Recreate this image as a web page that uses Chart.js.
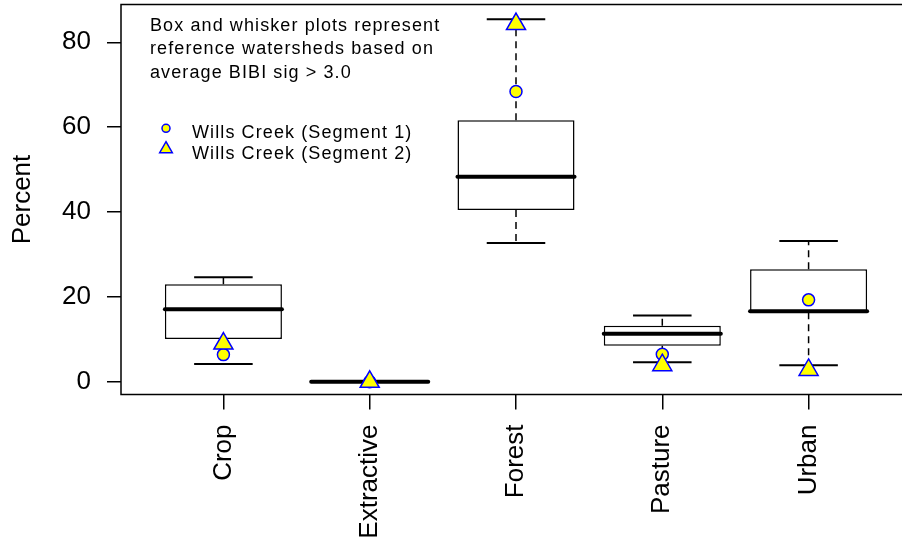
<!DOCTYPE html>
<html lang="en">
<head>
    <meta charset="UTF-8">
    <title>Land use percent - reference watersheds</title>
    <script src="https://cdn.jsdelivr.net/npm/chart.js"></script>
    <style>
        html, body {
            margin: 0;
            padding: 0;
            overflow: hidden;
            background: #fff;
        }
        canvas {
            display: block;
        }
    </style>
</head>
<body>
    <!-- wider than the window on purpose: the plot frame runs off the right edge -->
    <canvas id="boxChart" width="911" height="543"></canvas>

    <script>
        // land use categories and box stats
        const categories = ['Crop', 'Extractive', 'Forest', 'Pasture', 'Urban'];
        const whiskerLow = [4.2, 0, 32.7, 4.6, 3.9];
        const q1 = [10.1, 0, 40.5, 8.5, 16.4];
        const median = [17.1, 0, 48.3, 11.3, 16.6];
        const q3 = [23.0, 0, 61.6, 13.2, 26.5];
        const whiskerHigh = [24.6, 0, 85.4, 15.6, 33.2];

        // Wills Creek segments
        const segment1 = [6.4, 0, 68.4, 6.5, 19.3];
        const segment2 = [9.0, 0, 84.3, 3.9, 2.8];

        const yTicks = [0, 20, 40, 60, 80];

        const noteLines = [
            'Box and whisker plots represent',
            'reference watersheds based on',
            'average BIBI sig > 3.0'
        ];
        const seriesNames = ['Wills Creek (Segment 1)', 'Wills Creek (Segment 2)'];

        const FONT = 'Liberation Sans, Arial, sans-serif';
        const YELLOW = '#ffff00';
        const BLUE = '#0000ff';

        // whiskers, staples and the thick median line, drawn right after the boxes
        const boxParts = {
            id: 'boxParts',
            afterDatasetDraw(chart, args) {
                if (args.index !== 0) return;
                const { ctx } = chart;
                const x = chart.scales.x, y = chart.scales.y;
                ctx.save();
                ctx.strokeStyle = '#000';
                categories.forEach((c, i) => {
                    const px = x.getPixelForValue(i + 1);
                    const cap = x.getPixelForValue(i + 1.2) - px;
                    const half = x.getPixelForValue(i + 1.4) - px;

                    ctx.lineWidth = 1.5;
                    ctx.lineCap = 'butt';
                    ctx.setLineDash([7, 5]);
                    ctx.beginPath();
                    ctx.moveTo(px, y.getPixelForValue(q3[i]));
                    ctx.lineTo(px, y.getPixelForValue(whiskerHigh[i]));
                    ctx.moveTo(px, y.getPixelForValue(q1[i]));
                    ctx.lineTo(px, y.getPixelForValue(whiskerLow[i]));
                    ctx.stroke();

                    ctx.setLineDash([]);
                    ctx.lineWidth = 2;
                    ctx.beginPath();
                    ctx.moveTo(px - cap, y.getPixelForValue(whiskerHigh[i]));
                    ctx.lineTo(px + cap, y.getPixelForValue(whiskerHigh[i]));
                    ctx.moveTo(px - cap, y.getPixelForValue(whiskerLow[i]));
                    ctx.lineTo(px + cap, y.getPixelForValue(whiskerLow[i]));
                    ctx.stroke();

                    ctx.lineWidth = 4;
                    ctx.lineCap = 'round';
                    ctx.beginPath();
                    ctx.moveTo(px - half, y.getPixelForValue(median[i]));
                    ctx.lineTo(px + half, y.getPixelForValue(median[i]));
                    ctx.stroke();
                });
                ctx.restore();
            }
        };

        // R-style box around the plot region
        const frame = {
            id: 'frame',
            beforeDatasetsDraw(chart) {
                const { ctx, chartArea: a } = chart;
                ctx.save();
                ctx.strokeStyle = '#000';
                ctx.lineWidth = 1.5;
                ctx.strokeRect(a.left, a.top, a.right - a.left, a.bottom - a.top);
                ctx.restore();
            }
        };

        // the note and the little legend in the top left corner
        const notes = {
            id: 'notes',
            afterDraw(chart) {
                const { ctx } = chart;
                ctx.save();
                ctx.fillStyle = '#000';
                ctx.font = '18px ' + FONT;
                ctx.letterSpacing = '1.1px';
                ctx.textAlign = 'left';
                ctx.textBaseline = 'alphabetic';
                noteLines.forEach((t, i) => ctx.fillText(t, 150, 31 + i * 23.4));

                ctx.fillText(seriesNames[0], 192, 138);
                ctx.fillText(seriesNames[1], 192, 159);

                ctx.fillStyle = YELLOW;
                ctx.strokeStyle = BLUE;
                ctx.lineWidth = 1.5;
                ctx.beginPath();
                ctx.arc(166, 128.3, 4, 0, Math.PI * 2);
                ctx.fill();
                ctx.stroke();

                const r = 7.3, cx = 166, cy = 149;
                ctx.beginPath();
                ctx.moveTo(cx, cy - r);
                ctx.lineTo(cx + r * 0.866, cy + r / 2);
                ctx.lineTo(cx - r * 0.866, cy + r / 2);
                ctx.closePath();
                ctx.fill();
                ctx.stroke();
                ctx.restore();
            }
        };

        const ctx = document.getElementById('boxChart').getContext('2d');
        const boxChart = new Chart(ctx, {
            type: 'bar',
            data: {
                datasets: [
                    {
                        label: 'Reference watersheds',
                        data: categories.map((c, i) => ({ x: i + 1, y: [q1[i], q3[i]] })),
                        backgroundColor: '#ffffff',
                        borderColor: '#000000',
                        borderWidth: 1.5,
                        borderSkipped: false,
                        barPercentage: 0.8,
                        categoryPercentage: 1,
                        order: 3
                    },
                    {
                        type: 'scatter',
                        label: seriesNames[0],
                        data: categories.map((c, i) => ({ x: i + 1, y: segment1[i] })),
                        pointStyle: 'circle',
                        pointRadius: 6,
                        pointBackgroundColor: YELLOW,
                        pointBorderColor: BLUE,
                        pointBorderWidth: 1.5,
                        order: 2
                    },
                    {
                        type: 'scatter',
                        label: seriesNames[1],
                        data: categories.map((c, i) => ({ x: i + 1, y: segment2[i] })),
                        pointStyle: 'triangle',
                        pointRadius: 11,
                        pointBackgroundColor: YELLOW,
                        pointBorderColor: BLUE,
                        pointBorderWidth: 1.5,
                        order: 1
                    }
                ]
            },
            options: {
                responsive: false,
                animation: false,
                events: [],
                layout: { autoPadding: false, padding: { top: 4.5, left: 0, right: 0, bottom: 0 } },
                plugins: {
                    legend: { display: false },
                    tooltip: { enabled: false }
                },
                scales: {
                    x: {
                        type: 'linear',
                        offset: false,
                        min: 0.3,
                        max: 5.7,
                        afterBuildTicks: s => { s.ticks = categories.map((c, i) => ({ value: i + 1 })); },
                        afterFit: s => {
                            s.height = 148.5;
                            s.paddingLeft = 0;
                            s.paddingRight = 0;
                        },
                        grid: { offset: false, drawOnChartArea: false, tickLength: 15, color: '#000', lineWidth: 1.5 },
                        border: { display: false },
                        ticks: {
                            autoSkip: false,
                            minRotation: 90,
                            maxRotation: 90,
                            padding: 15,
                            color: '#000',
                            font: { family: FONT, size: 26, lineHeight: 1 },
                            callback: v => categories[v - 1]
                        }
                    },
                    y: {
                        min: -3.0,
                        max: 88.9,
                        afterBuildTicks: s => { s.ticks = yTicks.map(v => ({ value: v })); },
                        afterFit: s => {
                            s.width = 121;
                            s.paddingTop = 0;
                            s.paddingBottom = 0;
                        },
                        grid: { drawOnChartArea: false, tickLength: 14, color: '#000', lineWidth: 1.5 },
                        border: { display: false },
                        ticks: {
                            padding: 16,
                            color: '#000',
                            font: { family: FONT, size: 26 }
                        },
                        title: {
                            display: true,
                            text: 'Percent',
                            color: '#000',
                            font: { family: FONT, size: 26, lineHeight: 1.2 },
                            padding: { top: 7, bottom: 0 }
                        }
                    }
                }
            },
            plugins: [frame, boxParts, notes]
        });
    </script>
</body>
</html>
